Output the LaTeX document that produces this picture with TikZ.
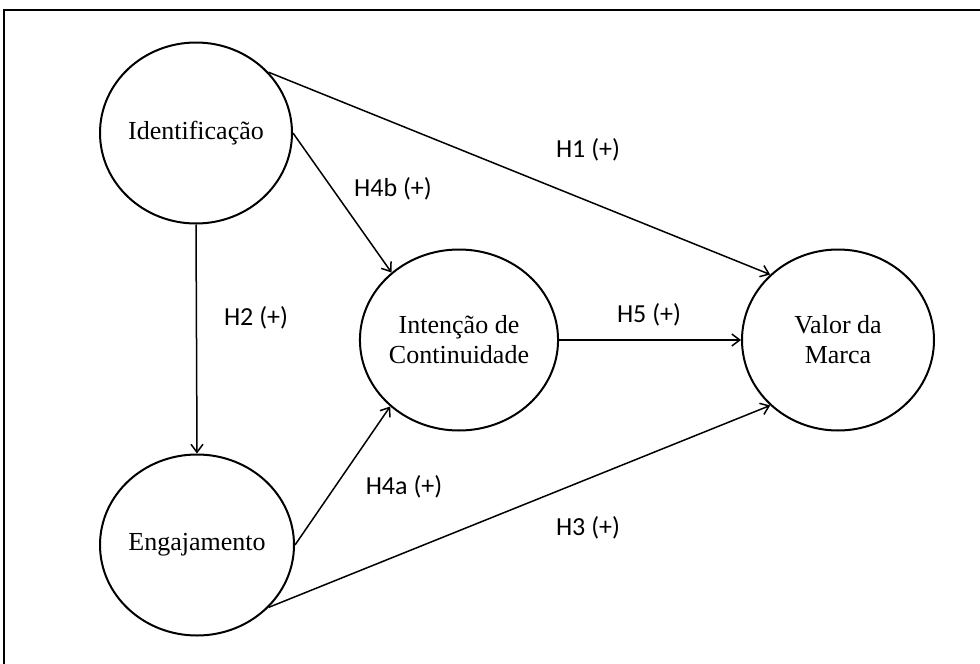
\documentclass[tikz,border=0pt]{standalone}
\usepackage{fontspec}
\setmainfont{Liberation Serif}
\newfontfamily\hypfont{Carlito}
\usetikzlibrary{shapes.geometric,arrows.meta}

\begin{document}
\begin{tikzpicture}[x=0.5pt,y=-0.5pt,
        construct/.style={draw,ellipse,line width=1pt,minimum width=96pt,minimum height=90.5pt,inner sep=0pt,align=center,font=\fontsize{13}{15}\selectfont},
        hyplabel/.style={font=\hypfont\fontsize{13}{15}\selectfont},
        hyparrow/.style={line width=0.75pt,-{Straight Barb[length=4pt,width=6pt]}}]
        \useasboundingbox (0,0) rectangle (980,664);
        \clip (0,0) rectangle (980,664);
        \draw[line width=1pt] (4,10) rectangle (1000,700);
        \node[construct] (ident) at (196,133) {Identificação};
        \node[construct] (engaj) at (197,545) {Engajamento};
        \node[construct] (intenc) at (459,340) {Intenção de\\Continuidade};
        \node[construct] (valor) at (838,340) {Valor da\\Marca};
        \draw[hyparrow] (ident.40) -- (valor.136);
        \draw[hyparrow] (ident.east) -- (intenc.135);
        \draw[hyparrow] (ident.south) -- (engaj.north);
        \draw[hyparrow] (engaj.east) -- (intenc.224);
        \draw[hyparrow] (engaj.-41) -- (valor.224);
        \draw[hyparrow] (intenc.east) -- (valor.west);
        \node[hyplabel] (h1) at (588,150) {H1 (+)};
        \node[hyplabel] (h4b) at (393,189) {H4b (+)};
        \node[hyplabel] (h2) at (256,318) {H2 (+)};
        \node[hyplabel] (h5) at (649,315) {H5 (+)};
        \node[hyplabel] (h4a) at (404,487) {H4a (+)};
        \node[hyplabel] (h3) at (588,528) {H3 (+)};
    \end{tikzpicture}
\end{document}
